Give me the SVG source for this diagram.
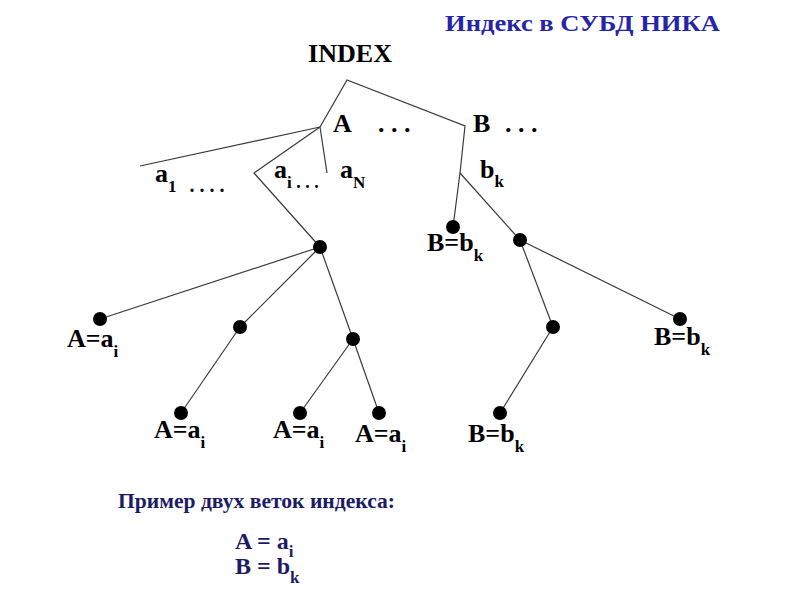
<svg xmlns="http://www.w3.org/2000/svg" width="800" height="600" viewBox="0 0 800 600">
<defs>
<style>
.ln{stroke:#3a3a3a;stroke-width:1.2;fill:none}
.dot{fill:#000}
</style>
</defs>
<rect width="800" height="600" fill="#fff"/>
<text id="title" x="445" y="31" font-family="Liberation Serif" font-weight="bold" font-size="24" fill="#2525aa" textLength="275" lengthAdjust="spacingAndGlyphs">Индекс в СУБД НИКА</text>
<text id="indexLabel" x="308" y="62" font-family="Liberation Serif" font-weight="bold" font-size="26" textLength="84" lengthAdjust="spacingAndGlyphs">INDEX</text>
<g id="connectors">
<polyline class="ln" points="320,127 347,80 465,126 460,173 453,227"/>
<line class="ln" x1="460" y1="173" x2="520" y2="240"/>
<line class="ln" x1="320" y1="127" x2="140" y2="166"/>
<line class="ln" x1="320" y1="127" x2="327" y2="173"/>
<polyline class="ln" points="320,127 254,173 320,247"/>
<line class="ln" x1="320" y1="247" x2="100" y2="319"/>
<line class="ln" x1="320" y1="247" x2="240" y2="327"/>
<line class="ln" x1="320" y1="247" x2="353" y2="339"/>
<line class="ln" x1="240" y1="327" x2="181" y2="413"/>
<line class="ln" x1="353" y1="339" x2="300" y2="413"/>
<line class="ln" x1="353" y1="339" x2="379" y2="413"/>
<line class="ln" x1="520" y1="240" x2="553" y2="327"/>
<line class="ln" x1="520" y1="240" x2="680" y2="319"/>
<line class="ln" x1="553" y1="327" x2="500" y2="413"/>
</g>
<g id="branchLabels">
<text x="333" y="132" font-family="Liberation Serif" font-weight="bold" font-size="26">A</text>
<text x="378" y="132" font-family="Liberation Serif" font-weight="bold" font-size="26">. . .</text>
<text x="473" y="132" font-family="Liberation Serif" font-weight="bold" font-size="26">B</text>
<text x="505" y="132" font-family="Liberation Serif" font-weight="bold" font-size="26">. . .</text>
<text x="155" y="182" font-family="Liberation Serif" font-weight="bold" font-size="26">a<tspan font-size="17" dy="10">1</tspan><tspan font-size="20" dx="8"> . . . .</tspan></text>
<text x="274" y="178" font-family="Liberation Serif" font-weight="bold" font-size="26">a<tspan font-size="17" dy="10">i</tspan><tspan font-size="18"> . . .</tspan></text>
<text x="340" y="178" font-family="Liberation Serif" font-weight="bold" font-size="26">a<tspan font-size="17" dy="10">N</tspan></text>
<text x="480" y="178" font-family="Liberation Serif" font-weight="bold" font-size="26">b<tspan font-size="17" dy="9">k</tspan></text>
</g>
<g id="nA1"><circle class="dot" cx="320" cy="247" r="7"/></g>
<g id="nA2"><circle class="dot" cx="100" cy="319" r="7"/><text x="67" y="347" font-family="Liberation Serif" font-weight="bold" font-size="26">A=a<tspan font-size="17" dy="10">i</tspan></text></g>
<g id="nA3"><circle class="dot" cx="240" cy="327" r="7"/></g>
<g id="nA4"><circle class="dot" cx="353" cy="339" r="7"/></g>
<g id="nA5"><circle class="dot" cx="181" cy="413" r="7"/><text x="154" y="438" font-family="Liberation Serif" font-weight="bold" font-size="26">A=a<tspan font-size="17" dy="10">i</tspan></text></g>
<g id="nA6"><circle class="dot" cx="300" cy="413" r="7"/><text x="273" y="438" font-family="Liberation Serif" font-weight="bold" font-size="26">A=a<tspan font-size="17" dy="10">i</tspan></text></g>
<g id="nA7"><circle class="dot" cx="379" cy="413" r="7"/><text x="355" y="442" font-family="Liberation Serif" font-weight="bold" font-size="26">A=a<tspan font-size="17" dy="10">i</tspan></text></g>
<g id="nB1"><circle class="dot" cx="453" cy="227" r="7"/><text x="427" y="251" font-family="Liberation Serif" font-weight="bold" font-size="26">B=b<tspan font-size="17" dy="10">k</tspan></text></g>
<g id="nB2"><circle class="dot" cx="520" cy="240" r="7"/></g>
<g id="nB3"><circle class="dot" cx="553" cy="327" r="7"/></g>
<g id="nB4"><circle class="dot" cx="680" cy="319" r="7"/><text x="654" y="345" font-family="Liberation Serif" font-weight="bold" font-size="26">B=b<tspan font-size="17" dy="10">k</tspan></text></g>
<g id="nB5"><circle class="dot" cx="500" cy="413" r="7"/><text x="468" y="442" font-family="Liberation Serif" font-weight="bold" font-size="26">B=b<tspan font-size="17" dy="10">k</tspan></text></g>
<g id="caption">
<text x="118" y="508" font-family="Liberation Serif" font-weight="bold" font-size="20" fill="#1c1c66" textLength="277" lengthAdjust="spacingAndGlyphs">Пример двух веток индекса:</text>
<text x="235" y="549" font-family="Liberation Serif" font-weight="bold" font-size="24" fill="#1c1c66">A = a<tspan font-size="17" dy="8">i</tspan></text>
<text x="235" y="574" font-family="Liberation Serif" font-weight="bold" font-size="24" fill="#1c1c66">B = b<tspan font-size="17" dy="9">k</tspan></text>
</g>
</svg>
